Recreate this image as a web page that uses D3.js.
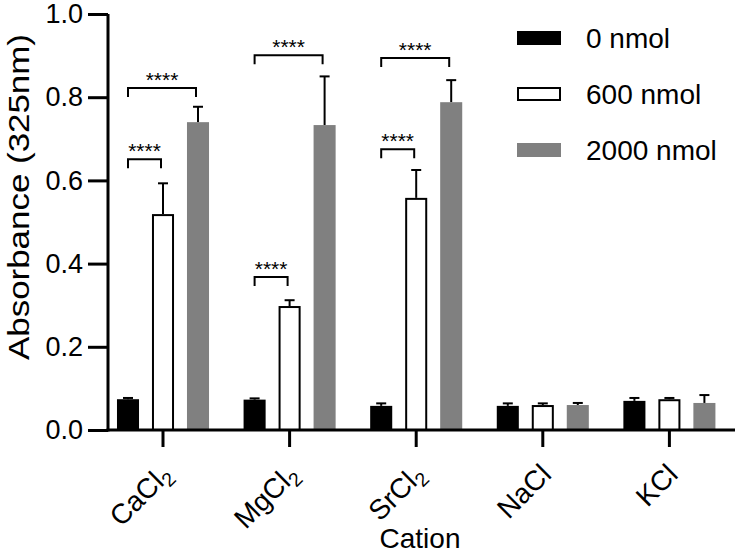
<!DOCTYPE html>
<html><head><meta charset="utf-8">
<script src="https://cdn.jsdelivr.net/npm/d3@7"></script>
<style>
html,body{margin:0;padding:0;background:#fff;}
svg{display:block;font-family:"Liberation Sans",Arial,Helvetica,sans-serif;}
</style></head>
<body>
<svg id="chart" width="735" height="553"></svg>
<script>
// ---- data ----
const categories = ["CaCl2", "MgCl2", "SrCl2", "NaCl", "KCl"];
const seriesNames = ["0 nmol", "600 nmol", "2000 nmol"];
const mean0    = [0.074, 0.073, 0.058, 0.058, 0.070];
const err0     = [0.003, 0.003, 0.006, 0.006, 0.007];
const mean600  = [0.519, 0.298, 0.558, 0.060, 0.074];
const err600   = [0.074, 0.014, 0.067, 0.004, 0.003];
const mean2000 = [0.740, 0.733, 0.788, 0.060, 0.065];
const err2000  = [0.037, 0.117, 0.053, 0.005, 0.019];
const yTicks = [0, 0.2, 0.4, 0.6, 0.8, 1.0];
// significance brackets: category, from series, to series, bracket level (absorbance), label
const sigCategory = ["CaCl2", "CaCl2", "MgCl2", "MgCl2", "SrCl2", "SrCl2"];
const sigFrom     = [0, 0, 0, 0, 0, 0];
const sigTo       = [1, 2, 1, 2, 1, 2];
const sigLevel    = [0.651, 0.822, 0.368, 0.901, 0.675, 0.894];
const sigLabel    = ["****", "****", "****", "****", "****", "****"];

const means = [mean0, mean600, mean2000];
const errs = [err0, err600, err2000];
const fills = ["#000000", "#ffffff", "#808080"];
const strokes = ["#000000", "#000000", "none"];

const svg = d3.select("#chart");
const FONT = 28;

const y = d3.scaleLinear().domain([0, 1]).range([430, 14]);
const x = d3.scaleBand().domain(categories).range([99.7, 732.7]).paddingInner(0).paddingOuter(0);
const xs = d3.scaleBand().domain(d3.range(3)).range([-52.5, 52.5]).paddingInner(0.37).paddingOuter(0.185);
const cx = c => x(c) + x.bandwidth() / 2;

// bars
const data = [];
categories.forEach((c, i) => {
  for (let s = 0; s < 3; s++) data.push({c, s, v: means[s][i], e: errs[s][i]});
});

const g = svg.append("g");
// error bars (drawn first, behind bars)
g.selectAll("line.err").data(data).join("line")
  .attr("x1", d => cx(d.c) + xs(d.s) + xs.bandwidth() / 2)
  .attr("x2", d => cx(d.c) + xs(d.s) + xs.bandwidth() / 2)
  .attr("y1", d => y(d.v)).attr("y2", d => y(d.v + d.e))
  .attr("stroke", "#000").attr("stroke-width", 2);
g.selectAll("line.cap").data(data).join("line")
  .attr("x1", d => cx(d.c) + xs(d.s) + xs.bandwidth() / 2 - 5)
  .attr("x2", d => cx(d.c) + xs(d.s) + xs.bandwidth() / 2 + 5)
  .attr("y1", d => y(d.v + d.e)).attr("y2", d => y(d.v + d.e))
  .attr("stroke", "#000").attr("stroke-width", 2);

g.selectAll("rect.bar").data(data).join("rect")
  .attr("x", d => cx(d.c) + xs(d.s) + (d.s === 1 ? 1 : 0))
  .attr("width", d => xs.bandwidth() - (d.s === 1 ? 2 : 0))
  .attr("y", d => y(d.v) + (d.s === 1 ? 1 : 0))
  .attr("height", d => y(0) - y(d.v) - (d.s === 1 ? 1 : 0))
  .attr("fill", d => fills[d.s])
  .attr("stroke", d => strokes[d.s])
  .attr("stroke-width", d => d.s === 1 ? 2 : 0);

// y axis
const yAxis = d3.axisLeft(y).tickValues(yTicks).tickFormat(d3.format(".1f")).tickSize(20).tickPadding(5);
const ya = svg.append("g").attr("transform", "translate(108,0)").call(yAxis);
ya.select(".domain").attr("stroke-width", 3).attr("d", `M0,${y(1)}V${y(0) + 1.5}`);
ya.selectAll(".tick line").attr("stroke-width", 3);
ya.selectAll(".tick text").attr("font-size", 27).attr("fill", "#000")
  .attr("font-family", "Liberation Sans, Arial, sans-serif");

// x axis
const xAxis = d3.axisBottom(x).tickSize(17).tickFormat("");
const xa = svg.append("g").attr("transform", `translate(0,${y(0)})`).call(xAxis);
xa.select(".domain").attr("stroke-width", 3).attr("d", "M106.5,0H735");
xa.selectAll(".tick line").attr("stroke-width", 3);

// rotated category labels with subscripts
categories.forEach(c => {
  const t = svg.append("text")
    .attr("transform", `translate(${cx(c) + 10},${y(0) + 46}) rotate(-45)`)
    .attr("text-anchor", "end")
    .attr("font-size", FONT).attr("fill", "#000");
  const parts = c.match(/[A-Za-z]+|\d+/g);
  parts.forEach(p => {
    if (/^\d+$/.test(p)) {
      t.append("tspan").attr("font-size", FONT * 0.7).attr("dy", 6).text(p);
    } else {
      t.append("tspan").text(p);
    }
  });
});

// axis titles
svg.append("text").attr("x", 420).attr("y", 548).attr("text-anchor", "middle")
  .attr("font-size", FONT).text("Cation");
svg.append("text").attr("transform", "translate(29,197) rotate(-90)").attr("text-anchor", "middle")
  .attr("font-size", 30).attr("textLength", 326).attr("lengthAdjust", "spacingAndGlyphs")
  .text("Absorbance (325nm)");

// significance brackets
sigCategory.forEach((c, i) => {
  const x1 = cx(c) + xs(sigFrom[i]) + xs.bandwidth() / 2;
  const x2 = cx(c) + xs(sigTo[i]) + xs.bandwidth() / 2 - 2;
  const yl = y(sigLevel[i]);
  svg.append("path")
    .attr("d", `M${x1},${yl + 9}V${yl}H${x2}V${yl + 9}`)
    .attr("fill", "none").attr("stroke", "#000").attr("stroke-width", 2);
  svg.append("text").attr("x", (x1 + x2) / 2).attr("y", yl - 1)
    .attr("text-anchor", "middle").attr("font-size", 21).text(sigLabel[i]);
});

// legend
const leg = svg.append("g");
seriesNames.forEach((n, i) => {
  const ly = 38 + i * 56;
  leg.append("rect")
    .attr("x", i === 1 ? 518 : 517).attr("y", ly - 7 + (i === 1 ? 1 : 0))
    .attr("width", i === 1 ? 42 : 44).attr("height", i === 1 ? 12 : 14)
    .attr("fill", fills[i]).attr("stroke", strokes[i]).attr("stroke-width", i === 1 ? 2 : 0);
  leg.append("text").attr("x", 586).attr("y", ly).attr("dy", "0.35em")
    .attr("font-size", FONT).text(n);
});
</script>
</body></html>
